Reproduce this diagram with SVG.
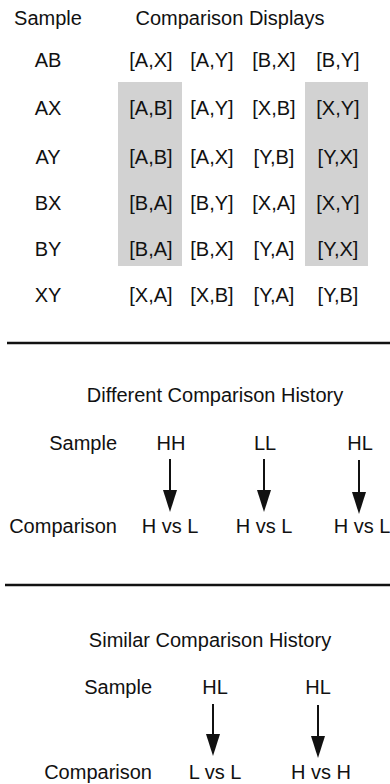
<svg xmlns="http://www.w3.org/2000/svg" width="390" height="784" viewBox="0 0 390 784">
  <defs>
    <style>
      text { font-family: "Liberation Sans", Arial, Helvetica, sans-serif; font-size: 20px; fill: #111; }
      .mid { text-anchor: middle; }
      .end { text-anchor: end; }
      .shade { fill: #d2d2d2; }
      .rule { stroke: #111; stroke-width: 2.5; }
      .shaft { stroke: #111; stroke-width: 2; fill: none; }
    </style>
    <!-- solid triangular head; reference point sits at the base so the shaft stops under it -->
    <marker id="head" viewBox="0 0 22 14" refX="1" refY="7" markerWidth="22" markerHeight="14" markerUnits="userSpaceOnUse" orient="auto">
      <path d="M0,0 L22,7 L0,14 Z" fill="#111"/>
    </marker>
  </defs>
  <rect width="390" height="784" fill="#fff"/>

  <!-- Table of sample / comparison displays -->
  <g id="table">
    <rect class="shade" x="118" y="82" width="64" height="184"/>
    <rect class="shade" x="305" y="82" width="63" height="184"/>
    <text class="mid" x="48" y="25">Sample</text>
    <text class="mid" x="230" y="25">Comparison Displays</text>

    <g id="row-AB">
      <text class="mid" x="48" y="67">AB</text>
      <text class="mid" x="151" y="67">[A,X]</text>
      <text class="mid" x="212" y="67">[A,Y]</text>
      <text class="mid" x="274" y="67">[B,X]</text>
      <text class="mid" x="338" y="67">[B,Y]</text>
    </g>
    <g id="row-AX">
      <text class="mid" x="48" y="115">AX</text>
      <text class="mid" x="151" y="115">[A,B]</text>
      <text class="mid" x="212" y="115">[A,Y]</text>
      <text class="mid" x="274" y="115">[X,B]</text>
      <text class="mid" x="338" y="115">[X,Y]</text>
    </g>
    <g id="row-AY">
      <text class="mid" x="48" y="164">AY</text>
      <text class="mid" x="151" y="164">[A,B]</text>
      <text class="mid" x="212" y="164">[A,X]</text>
      <text class="mid" x="274" y="164">[Y,B]</text>
      <text class="mid" x="338" y="164">[Y,X]</text>
    </g>
    <g id="row-BX">
      <text class="mid" x="48" y="210">BX</text>
      <text class="mid" x="151" y="210">[B,A]</text>
      <text class="mid" x="212" y="210">[B,Y]</text>
      <text class="mid" x="274" y="210">[X,A]</text>
      <text class="mid" x="338" y="210">[X,Y]</text>
    </g>
    <g id="row-BY">
      <text class="mid" x="48" y="256">BY</text>
      <text class="mid" x="151" y="256">[B,A]</text>
      <text class="mid" x="212" y="256">[B,X]</text>
      <text class="mid" x="274" y="256">[Y,A]</text>
      <text class="mid" x="338" y="256">[Y,X]</text>
    </g>
    <g id="row-XY">
      <text class="mid" x="48" y="302">XY</text>
      <text class="mid" x="151" y="302">[X,A]</text>
      <text class="mid" x="212" y="302">[X,B]</text>
      <text class="mid" x="274" y="302">[Y,A]</text>
      <text class="mid" x="338" y="302">[Y,B]</text>
    </g>
  </g>

  <!-- Section dividers -->
  <line class="rule" x1="7" y1="343" x2="390" y2="343"/>
  <line class="rule" x1="5" y1="585" x2="390" y2="585"/>

  <!-- Different comparison history -->
  <g id="different">
    <text class="mid" x="215" y="402">Different Comparison History</text>
    <text class="end" x="117" y="450">Sample</text>
    <text class="end" x="117" y="533">Comparison</text>
    <g id="diff-HH">
      <text class="mid" x="171" y="450">HH</text>
      <text class="mid" x="170" y="533">H vs L</text>
    </g>
    <g id="diff-LL">
      <text class="mid" x="265" y="450">LL</text>
      <text class="mid" x="264" y="533">H vs L</text>
    </g>
    <g id="diff-HL">
      <text class="mid" x="360" y="450">HL</text>
      <text class="mid" x="362" y="533">H vs L</text>
    </g>
  </g>

  <!-- Similar comparison history -->
  <g id="similar">
    <text class="mid" x="210" y="647">Similar Comparison History</text>
    <text class="end" x="152" y="694">Sample</text>
    <text class="end" x="152" y="779">Comparison</text>
    <g id="sim-HL-1">
      <text class="mid" x="215" y="694">HL</text>
      <text class="mid" x="215" y="779">L vs L</text>
    </g>
    <g id="sim-HL-2">
      <text class="mid" x="318" y="694">HL</text>
      <text class="mid" x="321" y="779">H vs H</text>
    </g>
  </g>

  <!-- Connectors: each shaft ends at the base of its arrowhead -->
  <g id="connectors">
    <line class="shaft" x1="170" y1="459" x2="170" y2="491" marker-end="url(#head)"/>
    <line class="shaft" x1="264" y1="459" x2="264" y2="491" marker-end="url(#head)"/>
    <line class="shaft" x1="359" y1="460" x2="359" y2="493" marker-end="url(#head)"/>
    <line class="shaft" x1="213" y1="704" x2="213" y2="735" marker-end="url(#head)"/>
    <line class="shaft" x1="318" y1="705" x2="318" y2="737" marker-end="url(#head)"/>
  </g>
</svg>
